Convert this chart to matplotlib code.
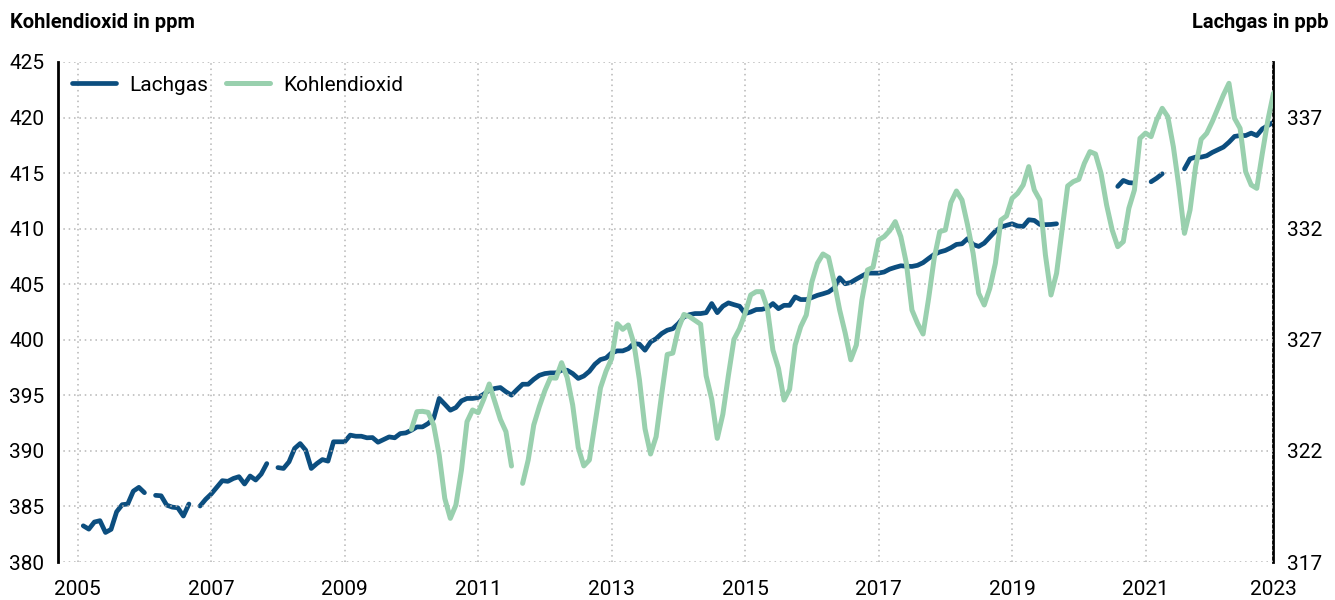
import matplotlib
matplotlib.use('Agg')
import matplotlib.pyplot as plt
import numpy as np

nan = np.nan

# Lachgas (N2O) in ppb, monthly from Feb 2005 to Dec 2022, gaps = missing months
lachgas = [
    318.63, 318.48, 318.80, 318.86, 318.33, 318.47, 319.26, 319.58, 319.61, 320.19, 320.36, 320.12,
    nan, 320.00, 319.98, 319.56, 319.47, 319.44, 319.07, 319.61, nan, 319.52, 319.82, 320.06,
    320.36, 320.66, 320.63, 320.76, 320.84, 320.51, 320.87, 320.69, 320.96, 321.43, nan, 321.25,
    321.21, 321.51, 322.11, 322.33, 322.03, 321.21, 321.43, 321.61, 321.54, 322.41, 322.41, 322.41,
    322.71, 322.66, 322.66, 322.59, 322.60, 322.39, 322.51, 322.63, 322.59, 322.78, 322.81, 322.93,
    323.08, 323.08, 323.23, 323.46, 324.36, 324.10, 323.83, 323.95, 324.25, 324.36, 324.36, 324.40,
    324.55, 324.73, 324.81, 324.85, 324.66, 324.51, 324.76, 325.00, 325.00, 325.22, 325.40, 325.48,
    325.51, 325.51, 325.63, 325.63, 325.48, 325.26, 325.37, 325.58, 325.90, 326.11, 326.18, 326.41,
    326.50, 326.50, 326.60, 326.83, 326.80, 326.53, 326.90, 327.05, 327.28, 327.43, 327.50, 327.73,
    328.03, 328.13, 328.18, 328.18, 328.22, 328.63, 328.22, 328.51, 328.66, 328.58, 328.51, 328.18,
    328.25, 328.36, 328.37, 328.43, 328.63, 328.40, 328.55, 328.55, 328.93, 328.81, 328.81, 328.90,
    329.00, 329.07, 329.15, 329.33, 329.79, 329.52, 329.58, 329.73, 329.87, 330.00, 330.00, 330.00,
    330.05, 330.18, 330.26, 330.33, 330.31, 330.30, 330.35, 330.47, 330.66, 330.84, 330.95, 331.02,
    331.14, 331.29, 331.32, 331.55, 331.29, 331.20, 331.35, 331.62, 331.89, 332.07, 332.15, 332.22,
    332.12, 332.10, 332.40, 332.37, 332.19, 332.18, 332.19, 332.22, nan, nan, nan, nan,
    nan, nan, nan, nan, nan, nan, 333.90, 334.17, 334.07, 334.05, nan, nan,
    334.11, 334.27, 334.47, nan, nan, nan, 334.69, 335.14, 335.22, 335.22, 335.28, 335.43,
    335.55, 335.67, 335.89, 336.15, 336.19, 336.19, 336.30, 336.19, 336.49, 336.64, 336.79,
]

# Kohlendioxid (CO2) in ppm, monthly from Jan 2010 to Dec 2022
kohlendioxid = [
    391.94, 393.53, 393.56, 393.47, 392.33, 389.63, 385.73, 383.93, 385.13, 388.28, 392.63, 393.68,
    393.44, 394.64, 396.02, 394.43, 392.84, 391.73, 388.64, nan, 387.08, 389.18, 392.33, 393.98,
    395.42, 396.58, 396.55, 397.94, 396.62, 394.13, 390.30, 388.65, 389.18, 392.40, 395.68, 397.18,
    398.30, 401.45, 400.94, 401.33, 399.68, 396.40, 392.00, 389.72, 391.28, 395.10, 398.68, 398.80,
    401.00, 402.28, 402.08, 401.74, 401.40, 396.75, 394.65, 391.13, 393.30, 396.80, 400.04, 401.00,
    402.38, 404.03, 404.33, 404.33, 402.83, 399.08, 397.43, 394.58, 395.54, 399.53, 401.18, 402.23,
    405.20, 406.88, 407.72, 407.42, 405.23, 402.68, 400.60, 398.20, 399.53, 403.58, 406.28, 406.52,
    408.98, 409.28, 409.82, 410.63, 409.28, 406.88, 402.68, 401.48, 400.52, 403.73, 407.33, 409.73,
    409.88, 412.34, 413.39, 412.58, 410.33, 407.78, 404.18, 403.13, 404.63, 406.88, 410.78, 411.14,
    412.73, 413.18, 413.93, 415.58, 413.48, 412.58, 407.63, 404.03, 405.98, 409.88, 413.84, 414.23,
    414.44, 415.88, 416.93, 416.72, 414.98, 412.13, 409.88, 408.38, 408.83, 411.83, 413.48, 418.13,
    418.60, 418.28, 419.78, 420.83, 420.08, 417.38, 413.78, 409.58, 411.68, 415.58, 418.04, 418.58,
    419.63, 420.83, 422.03, 423.08, 419.93, 419.03, 415.13, 413.93, 413.63, 416.78, 419.78, 422.18,
]

year_ticks = [2005, 2007, 2009, 2011, 2013, 2015, 2017, 2019, 2021, 2023]
co2_ticks = [380, 385, 390, 395, 400, 405, 410, 415, 420, 425]
n2o_ticks = [317, 322, 327, 332, 337]

blue = '#0c4e7f'
green = '#99d0ae'

plt.rcParams['font.family'] = ['Roboto', 'DejaVu Sans']

# decimal years for the monthly values
t_n2o = 2005 + (1 + np.arange(len(lachgas))) / 12
t_co2 = 2010 + np.arange(len(kohlendioxid)) / 12

fig = plt.figure(figsize=(13.35, 6), dpi=100)
ax = fig.add_axes([0.0437, 0.0633, 0.9102, 0.8334])
ax2 = ax.twinx()

l1, = ax2.plot(t_n2o, lachgas, color=blue, lw=3.4, solid_capstyle='round', solid_joinstyle='round')
l2, = ax.plot(t_co2, kohlendioxid, color=green, lw=3.6, solid_capstyle='round', solid_joinstyle='round')

# green on top of blue
ax.set_zorder(ax2.get_zorder() + 1)
ax.patch.set_visible(False)

x_end = t_n2o[-1]
ax.set_xlim(2004.71, x_end)
ax.set_ylim(380, 425)
ax2.set_ylim(317, 339.5)

ax.set_xticks(year_ticks[:-1] + [x_end])
ax.set_xticklabels([str(y) for y in year_ticks])
ax.set_yticks(co2_ticks)
ax.set_yticklabels([str(v) for v in co2_ticks])
ax2.set_yticks(n2o_ticks)

ax.grid(True, color='#b5b5b5', linestyle=(0, (1, 2.5)), linewidth=1.1)
ax.set_axisbelow(True)

ax.tick_params(axis='x', length=0, pad=13, labelsize=15)
ax.tick_params(axis='y', length=0, pad=10, labelsize=15)
ax2.tick_params(axis='y', length=0, pad=10, labelsize=15)

for s in ['top', 'bottom', 'right']:
    ax.spines[s].set_visible(False)
for s in ['top', 'bottom', 'left']:
    ax2.spines[s].set_visible(False)
ax.spines['left'].set_linewidth(2)
ax2.spines['right'].set_linewidth(2)

ax.legend([l1, l2], ['Lachgas', 'Kohlendioxid'], loc='upper left', ncol=2, frameon=False,
          fontsize=15, handlelength=2.1, handletextpad=0.65, columnspacing=0.85,
          borderaxespad=0.35, borderpad=0.3)

fig.text(0.0075, 0.963, 'Kohlendioxid in ppm', fontsize=14.5, fontweight='bold', va='center', ha='left')
fig.text(0.9948, 0.963, 'Lachgas in ppb', fontsize=14.5, fontweight='bold', va='center', ha='right')

fig.savefig('out.png', dpi=100)
